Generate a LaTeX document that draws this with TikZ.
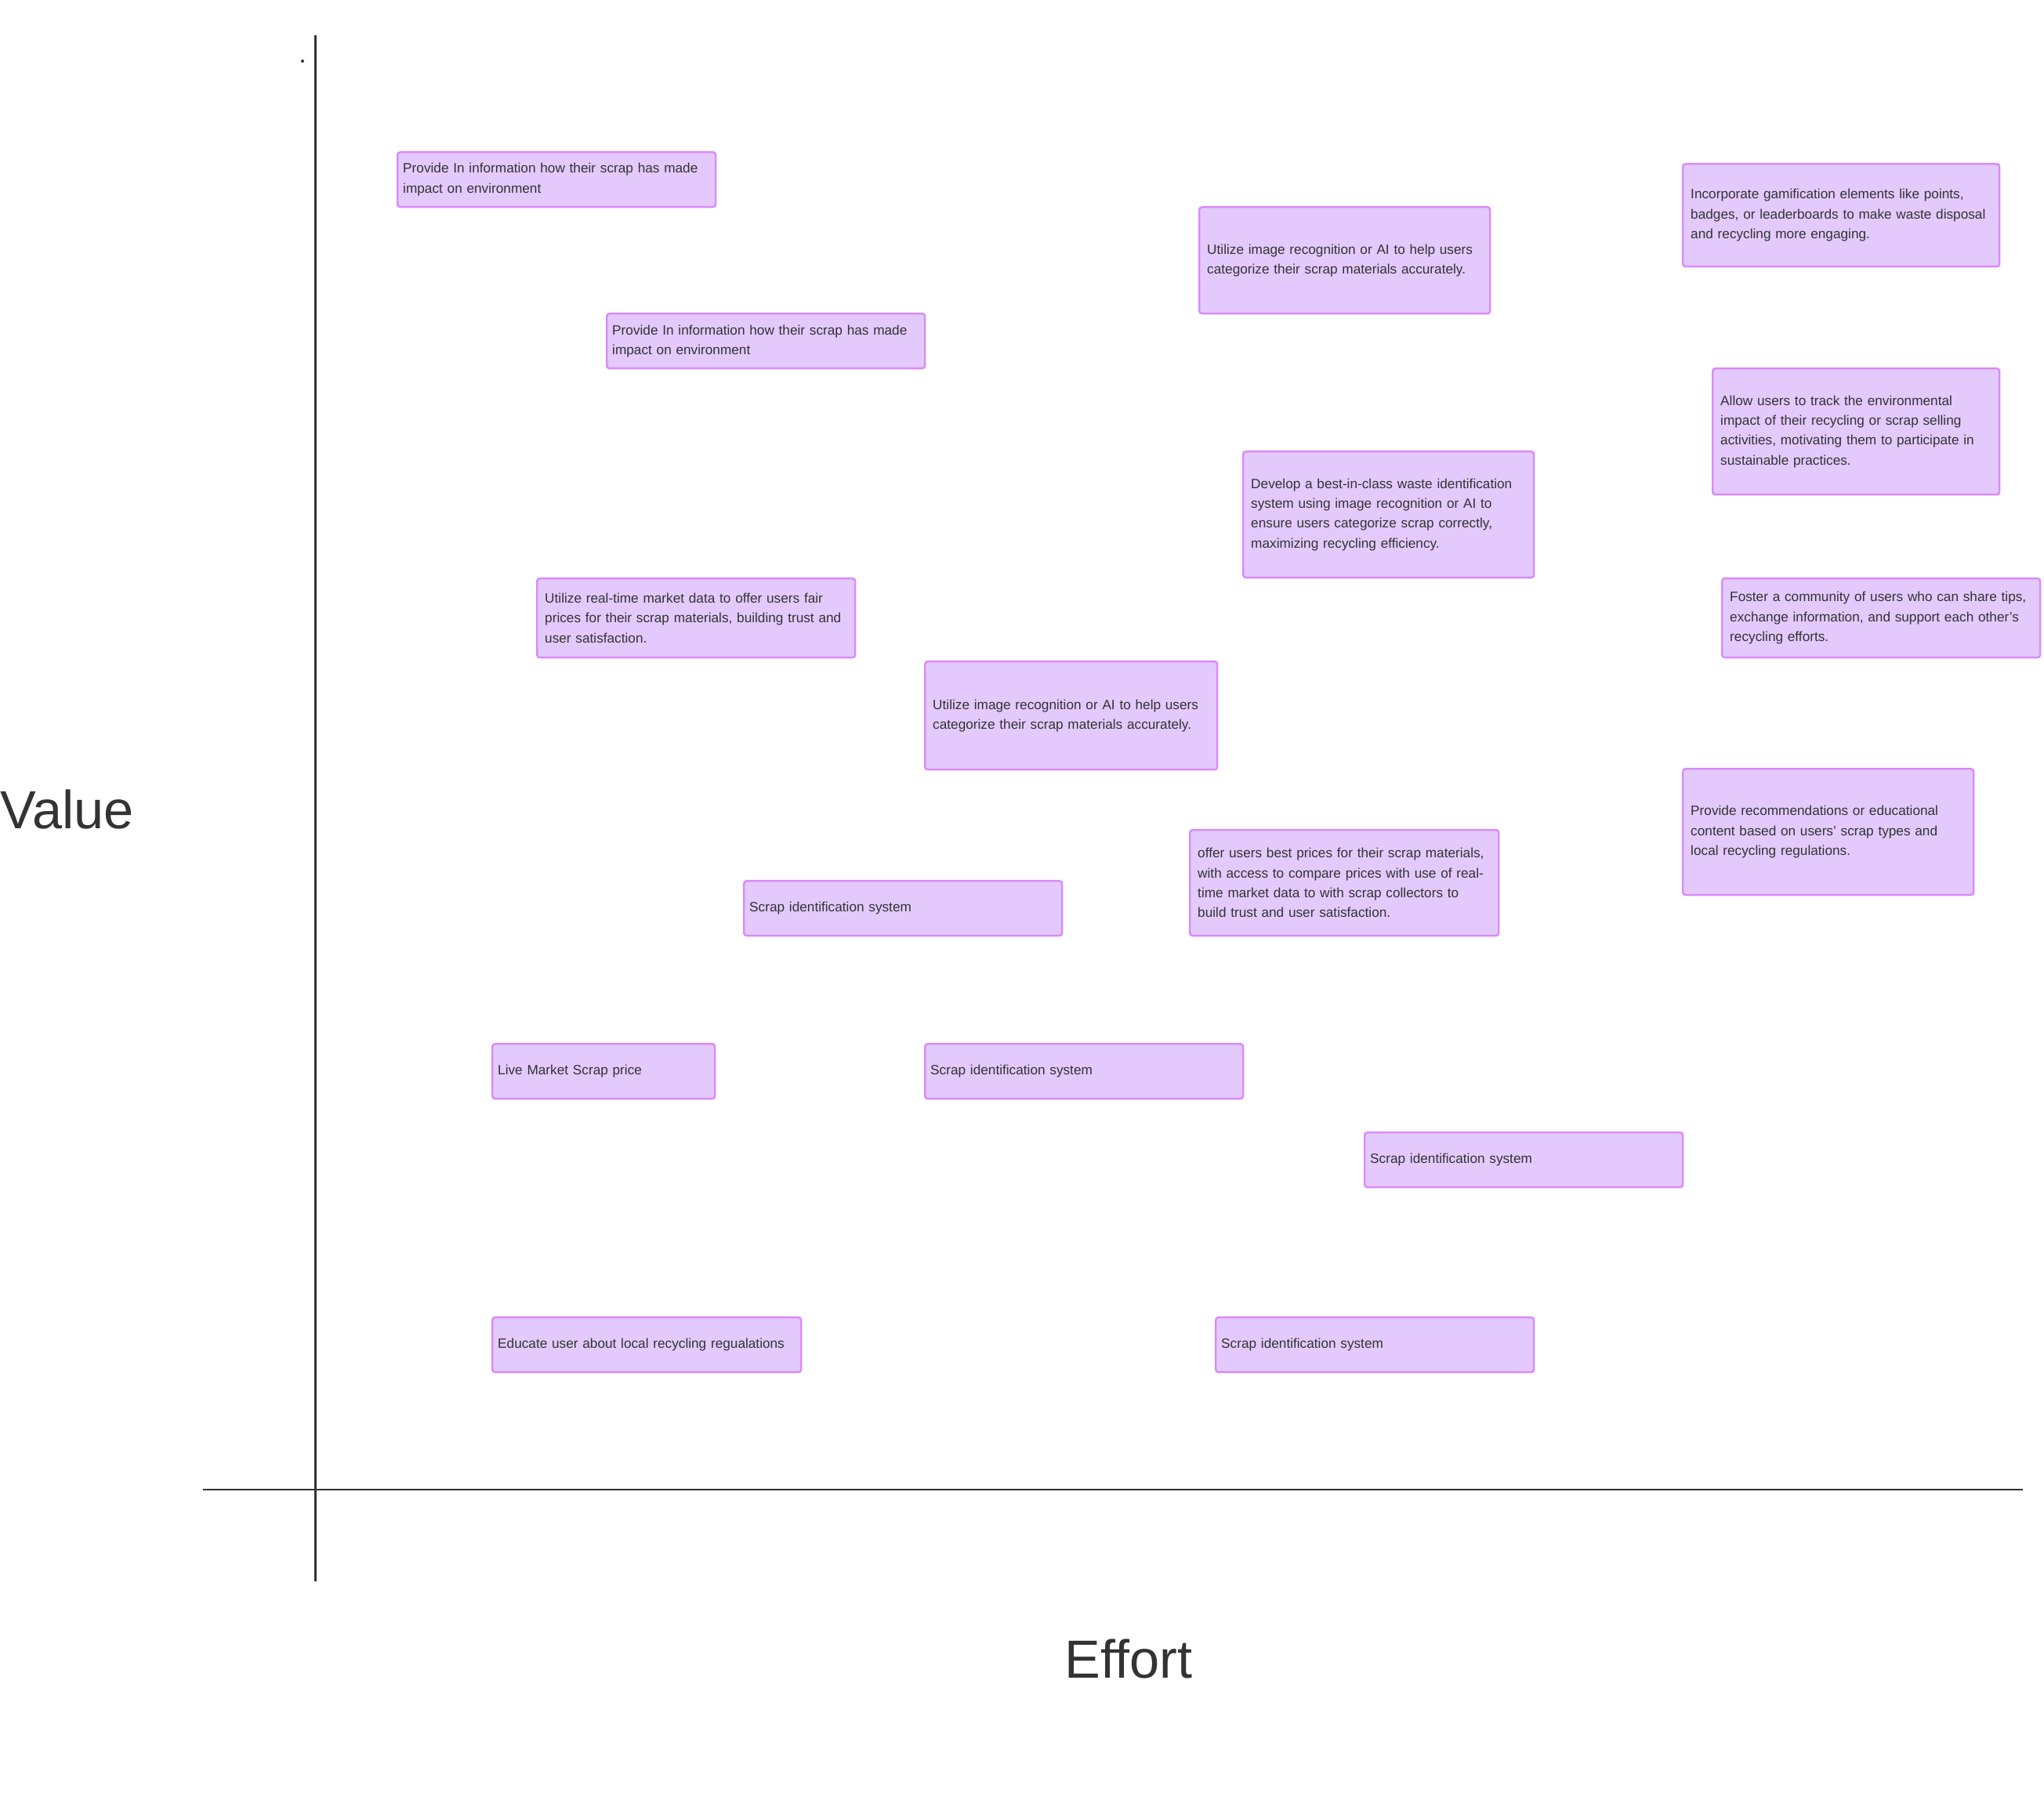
\documentclass[tikz,border=0pt]{standalone}
\usepackage{fontspec}
\setmainfont{Liberation Sans}
\usepackage{tikz}
\usetikzlibrary{positioning}

\definecolor{preenchimento}{HTML}{E3C9FC}
\definecolor{borda}{HTML}{D98AF9}
\definecolor{tinta}{HTML}{333333}

\begin{document}
\begin{tikzpicture}[
			ideia/.style={draw=borda, fill=preenchimento, line width=0.7pt, rounded corners=1pt,
				align=left, anchor=north west, text=tinta, inner xsep=0.1cm, inner ysep=2pt,
				font=\fontsize{4.9}{7.2}\selectfont},
			curta/.style={ideia, inner xsep=0.07cm},
			eixo/.style={draw=tinta, line width=0.8pt},
			rotulo/.style={text=tinta, inner sep=0pt, font=\fontsize{19.5}{22}\selectfont}
		]
		\useasboundingbox (0,0) rectangle (26.08,22.92);

		% eixos
		\coordinate (ytop) at (4.025,22.47);
		\coordinate (ybot) at (4.025,2.74);
		\coordinate (xleft) at (2.59,3.91);
		\coordinate (xright) at (25.81,3.91);
		\draw[eixo] (ytop) -- (ybot);
		\draw[eixo] (xleft) -- (xright);
		\fill[tinta] (3.86,22.14) circle (0.02);

		\node[rotulo, anchor=west] (value) at (0,12.59) {Value};
		\node[rotulo] (effort) at (14.40,1.75) {Effort};

		% ideias
		\node[curta, text width=3.92cm, minimum height=0.70cm] (impact1) at (5.06,20.99) {Provide In information how their scrap has made\\ impact on environment};
		\node[curta, text width=3.92cm, minimum height=0.70cm] (impact2) at (7.73,18.93) {Provide In information how their scrap has made\\ impact on environment};
		\node[ideia, text width=3.51cm, minimum height=1.36cm] (imgrec1) at (15.29,20.29) {Utilize image recognition or AI to help users\\ categorize their scrap materials accurately.};
		\node[ideia, text width=3.84cm, minimum height=1.31cm] (gamify) at (21.46,20.84) {Incorporate gamification elements like points,\\ badges, or leaderboards to make waste disposal\\ and recycling more engaging.};
		\node[ideia, text width=3.46cm, minimum height=1.61cm] (track) at (21.84,18.23) {Allow users to track the environmental\\ impact of their recycling or scrap selling\\ activities, motivating them to participate in\\ sustainable practices.};
		\node[ideia, text width=3.51cm, minimum height=1.61cm] (bestid) at (15.85,17.17) {Develop a best-in-class waste identification\\ system using image recognition or AI to\\ ensure users categorize scrap correctly,\\ maximizing recycling efficiency.};
		\node[ideia, text width=3.86cm, minimum height=1.01cm] (fairprice) at (6.84,15.55) {Utilize real-time market data to offer users fair\\ prices for their scrap materials, building trust and\\ user satisfaction.};
		\node[ideia, text width=3.86cm, minimum height=1.01cm] (community) at (21.96,15.55) {Foster a community of users who can share tips,\\ exchange information, and support each other's\\ recycling efforts.};
		\node[ideia, text width=3.53cm, minimum height=1.38cm] (imgrec2) at (11.79,14.49) {Utilize image recognition or AI to help users\\ categorize their scrap materials accurately.};
		\node[ideia, text width=3.51cm, minimum height=1.61cm] (recommend) at (21.46,13.12) {Provide recommendations or educational\\ content based on users' scrap types and\\ local recycling regulations.};
		\node[ideia, text width=3.74cm, minimum height=1.35cm] (bestprice) at (15.17,12.34) {offer users best prices for their scrap materials,\\ with access to compare prices with use of real-\\ time market data to with scrap collectors to\\ build trust and user satisfaction.};
		\node[curta, text width=3.92cm, minimum height=0.70cm] (scrapid1) at (9.48,11.69) {Scrap identification system};
		\node[curta, text width=2.70cm, minimum height=0.70cm] (liveprice) at (6.27,9.61) {Live Market Scrap price};
		\node[curta, text width=3.92cm, minimum height=0.70cm] (scrapid2) at (11.79,9.61) {Scrap identification system};
		\node[curta, text width=3.92cm, minimum height=0.70cm] (scrapid3) at (17.40,8.48) {Scrap identification system};
		\node[curta, text width=3.80cm, minimum height=0.70cm] (educate) at (6.27,6.12) {Educate user about local recycling regualations};
		\node[curta, text width=3.92cm, minimum height=0.70cm] (scrapid4) at (15.50,6.12) {Scrap identification system};
	\end{tikzpicture}
\end{document}
